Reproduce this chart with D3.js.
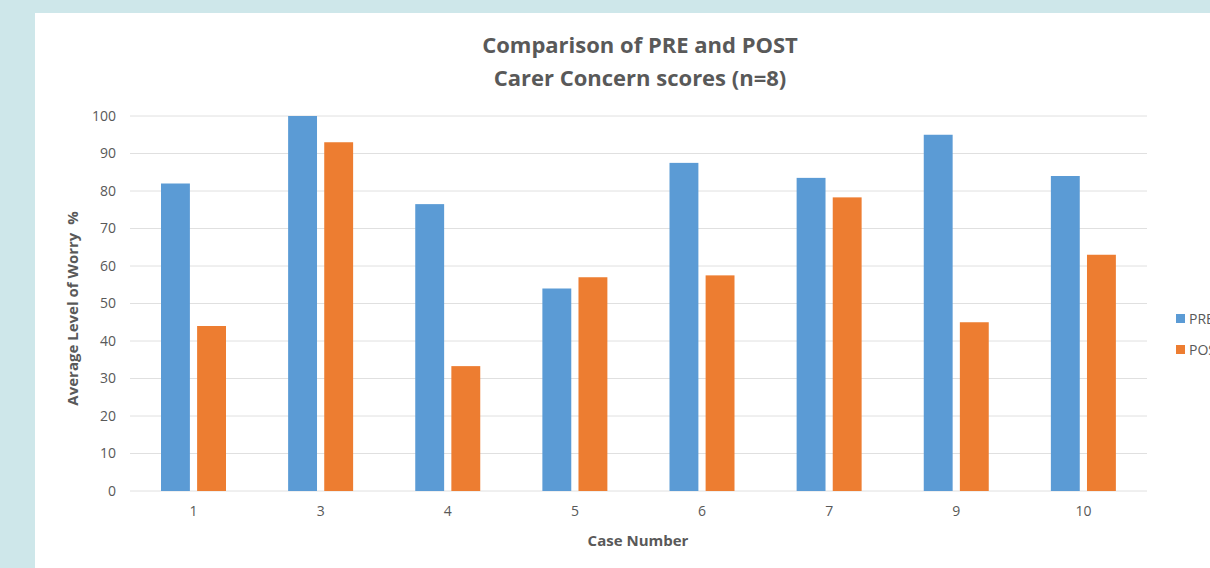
<!DOCTYPE html>
<html>
<head>
<meta charset="utf-8">
<script src="https://cdn.jsdelivr.net/npm/d3@7"></script>
<style>
  body { margin: 0; background: #cee7ea; overflow: hidden; }
  text { font-family: "Open Sans", "Noto Sans", sans-serif; fill: #595959; }
</style>
</head>
<body>
<svg id="chart"></svg>
<script>
const cases = ['1', '3', '4', '5', '6', '7', '9', '10'];
const pre = [82, 100, 76.5, 54, 87.5, 83.5, 95, 84];
const post = [44, 93, 33.3, 57, 57.5, 78.3, 45, 63];
const seriesNames = ['PRE', 'POST'];
const yTicks = [0, 10, 20, 30, 40, 50, 60, 70, 80, 90, 100];

const colors = ['#5b9bd5', '#ed7d31'];
const width = 1210, height = 568;

const svg = d3.select('#chart')
    .attr('width', width)
    .attr('height', height);

// white chart panel
svg.append('rect')
    .attr('x', 35).attr('y', 13)
    .attr('width', width - 35).attr('height', height - 13)
    .attr('fill', '#fff');

const plotL = 130, plotR = 1147, plotT = 116, plotB = 491;

const x = d3.scaleBand()
    .domain(cases)
    .range([plotL, plotR]);

const x1 = d3.scaleBand()
    .domain(seriesNames)
    .range([31, 96])
    .paddingInner(0.2);

const y = d3.scaleLinear()
    .domain([0, 100])
    .range([plotB, plotT]);

// gridlines
svg.append('g')
    .selectAll('line')
    .data(yTicks)
    .enter().append('line')
    .attr('x1', plotL).attr('x2', plotR)
    .attr('y1', d => y(d)).attr('y2', d => y(d))
    .attr('stroke', '#e0e0e0')
    .attr('stroke-width', 1);

// y axis labels
const yAxis = svg.append('g')
    .attr('transform', 'translate(' + (plotL - 14) + ',0)')
    .call(d3.axisLeft(y).tickValues(yTicks).tickSize(0).tickPadding(0));
yAxis.select('.domain').remove();
yAxis.selectAll('text')
    .attr('font-size', 14)
    .style('fill', '#595959')
    .style('font-family', '"Open Sans", sans-serif');

// x axis labels
const xAxis = svg.append('g')
    .attr('transform', 'translate(0,' + (plotB + 12) + ')')
    .call(d3.axisBottom(x).tickSize(0).tickPadding(3));
xAxis.select('.domain').remove();
xAxis.selectAll('text')
    .attr('font-size', 14)
    .style('fill', '#595959')
    .style('font-family', '"Open Sans", sans-serif');

const rows = cases.map((c, i) => ({ c: c, vals: [pre[i], post[i]] }));

const groups = svg.append('g')
    .selectAll('g')
    .data(rows)
    .enter().append('g')
    .attr('transform', d => 'translate(' + x(d.c) + ',0)');

groups.selectAll('rect')
    .data(d => d.vals.map((v, j) => ({ key: seriesNames[j], v: v, j: j })))
    .enter().append('rect')
    .attr('x', d => x1(d.key))
    .attr('width', x1.bandwidth())
    .attr('y', d => y(d.v))
    .attr('height', d => y(0) - y(d.v))
    .attr('fill', d => colors[d.j]);

// title
const title = svg.append('text')
    .attr('text-anchor', 'middle')
    .attr('font-size', 22)
    .attr('font-weight', 'bold');
title.append('tspan').attr('x', 640).attr('y', 53).text('Comparison of PRE and POST');
title.append('tspan').attr('x', 640).attr('y', 86).text('Carer Concern scores (n=8)');

// axis titles
svg.append('text')
    .attr('transform', 'translate(78,' + ((plotT + plotB) / 2 + 5) + ') rotate(-90)')
    .attr('text-anchor', 'middle')
    .attr('font-size', 15)
    .attr('font-weight', 'bold')
    .style('white-space', 'pre')
    .text('Average Level of Worry  %');

svg.append('text')
    .attr('x', 638).attr('y', 546)
    .attr('text-anchor', 'middle')
    .attr('font-size', 15)
    .attr('font-weight', 'bold')
    .text('Case Number');

// legend
const legend = svg.append('g')
    .selectAll('g')
    .data(seriesNames)
    .enter().append('g')
    .attr('transform', (d, i) => 'translate(1176,' + (314 + i * 31) + ')');
legend.append('rect')
    .attr('width', 9).attr('height', 9)
    .attr('fill', (d, i) => colors[i]);
legend.append('text')
    .attr('x', 13).attr('y', 10)
    .attr('font-size', 14)
    .text(d => d);
</script>
</body>
</html>
